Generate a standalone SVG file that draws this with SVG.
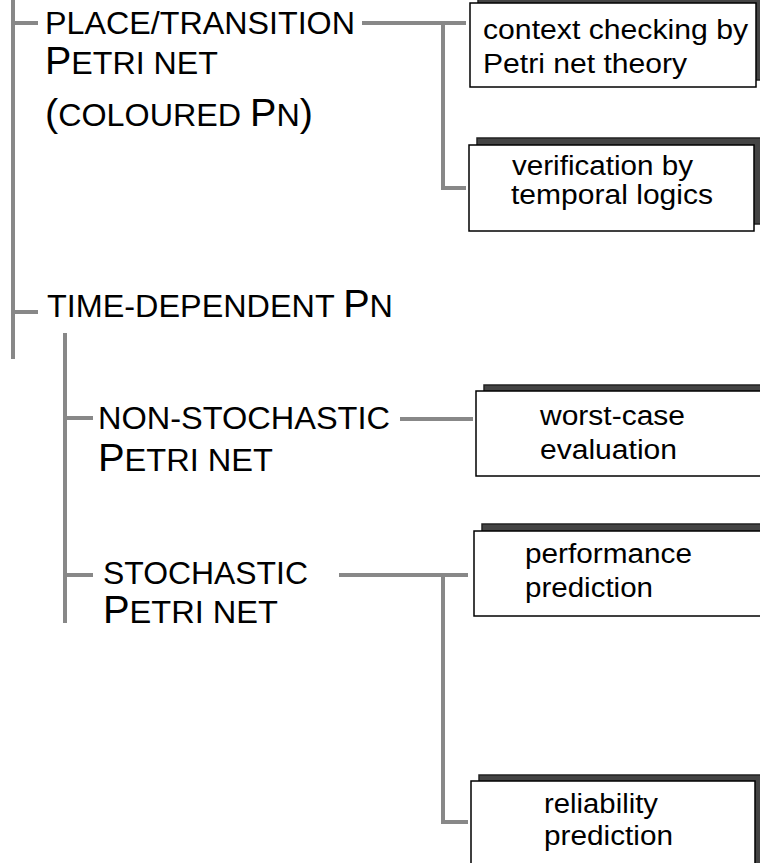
<svg xmlns="http://www.w3.org/2000/svg" width="760" height="863" viewBox="0 0 760 863">
  <style>
    .ln { stroke: #888; stroke-width: 4; fill: none; }
    .shadow { fill: #444; stroke: #222; stroke-width: 1.5; }
    .box { fill: #fff; stroke: #000; stroke-width: 1.5; }
    .hd { font-family: "Liberation Sans", Arial, sans-serif; font-size: 31px; fill: #000; }
    .cap { font-size: 38px; }
    .tx { font-family: "Liberation Sans", Arial, sans-serif; font-size: 27px; fill: #000; }
  </style>
  <rect width="760" height="863" fill="#fff"/>

  <!-- connectors -->
  <g id="connectors">
    <path class="ln" d="M13 0 V359"/>
    <path class="ln" d="M13 23 H38"/>
    <path class="ln" d="M13 312 H38"/>
    <path class="ln" d="M362 23 H466"/>
    <path class="ln" d="M443 23 V188 H466"/>
    <path class="ln" d="M65 333 V623"/>
    <path class="ln" d="M65 418 H93"/>
    <path class="ln" d="M65 575 H93"/>
    <path class="ln" d="M400 419 H473"/>
    <path class="ln" d="M339 575 H468"/>
    <path class="ln" d="M443 575 V822 H468"/>
  </g>

  <!-- category labels -->
  <g id="place-transition">
    <text class="hd" x="45" y="34" textLength="310" lengthAdjust="spacingAndGlyphs">PLACE/TRANSITION</text>
    <text class="hd" x="45" y="74" textLength="173" lengthAdjust="spacingAndGlyphs"><tspan class="cap">P</tspan>ETRI NET</text>
    <text class="hd" x="45" y="126" textLength="268" lengthAdjust="spacingAndGlyphs"><tspan class="cap">(</tspan>COLOURED <tspan class="cap">P</tspan>N<tspan class="cap">)</tspan></text>
  </g>
  <g id="time-dependent">
    <text class="hd" x="47" y="317" textLength="346" lengthAdjust="spacingAndGlyphs">TIME-DEPENDENT <tspan class="cap">P</tspan>N</text>
  </g>
  <g id="non-stochastic">
    <text class="hd" x="98" y="429" textLength="292" lengthAdjust="spacingAndGlyphs">NON-STOCHASTIC</text>
    <text class="hd" x="98" y="471" textLength="175" lengthAdjust="spacingAndGlyphs"><tspan class="cap">P</tspan>ETRI NET</text>
  </g>
  <g id="stochastic">
    <text class="hd" x="103" y="584" textLength="205" lengthAdjust="spacingAndGlyphs">STOCHASTIC</text>
    <text class="hd" x="103" y="623" textLength="175" lengthAdjust="spacingAndGlyphs"><tspan class="cap">P</tspan>ETRI NET</text>
  </g>

  <!-- analysis boxes -->
  <g id="context-checking">
    <rect class="shadow" x="478" y="-4" width="286" height="84"/>
    <rect class="box" x="470" y="3" width="286" height="84"/>
    <text class="tx" x="483" y="39" textLength="265" lengthAdjust="spacingAndGlyphs">context checking by</text>
    <text class="tx" x="483" y="73" textLength="204" lengthAdjust="spacingAndGlyphs">Petri net theory</text>
  </g>
  <g id="verification">
    <rect class="shadow" x="477" y="138" width="285" height="86"/>
    <rect class="box" x="469" y="145" width="285" height="86"/>
    <text class="tx" x="512" y="175" textLength="181" lengthAdjust="spacingAndGlyphs">verification by</text>
    <text class="tx" x="511" y="204" textLength="202" lengthAdjust="spacingAndGlyphs">temporal logics</text>
  </g>
  <g id="worst-case">
    <rect class="shadow" x="484" y="385" width="290" height="85"/>
    <rect class="box" x="476" y="391" width="290" height="85"/>
    <text class="tx" x="540" y="425" textLength="145" lengthAdjust="spacingAndGlyphs">worst-case</text>
    <text class="tx" x="540" y="459" textLength="137" lengthAdjust="spacingAndGlyphs">evaluation</text>
  </g>
  <g id="performance">
    <rect class="shadow" x="482" y="524" width="290" height="85"/>
    <rect class="box" x="474" y="531" width="290" height="85"/>
    <text class="tx" x="525" y="563" textLength="167" lengthAdjust="spacingAndGlyphs">performance</text>
    <text class="tx" x="525" y="597" textLength="128" lengthAdjust="spacingAndGlyphs">prediction</text>
  </g>
  <g id="reliability">
    <rect class="shadow" x="479" y="775" width="284" height="100"/>
    <rect class="box" x="471" y="781" width="284" height="100"/>
    <text class="tx" x="544" y="813" textLength="114" lengthAdjust="spacingAndGlyphs">reliability</text>
    <text class="tx" x="544" y="845" textLength="129" lengthAdjust="spacingAndGlyphs">prediction</text>
  </g>
</svg>
